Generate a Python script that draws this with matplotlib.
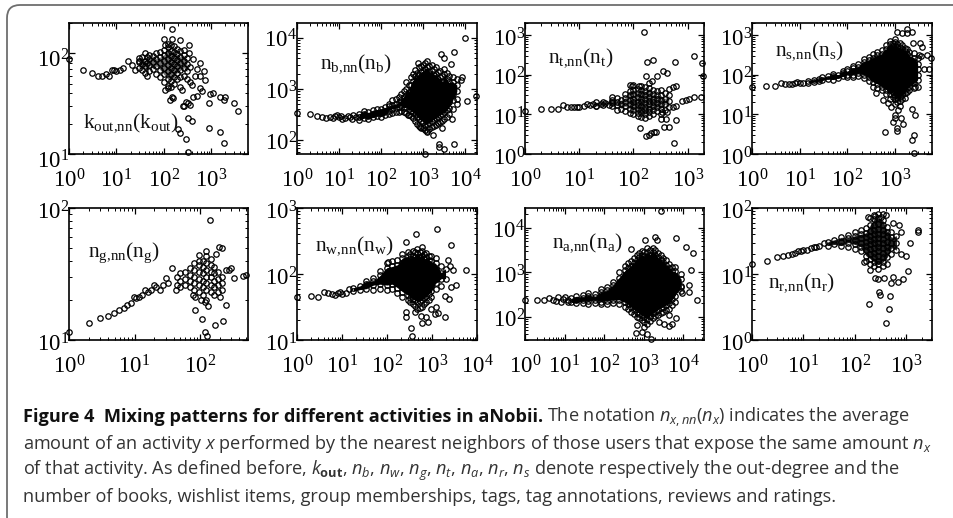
import numpy as np
import matplotlib
matplotlib.use("Agg")
import matplotlib.pyplot as plt
from matplotlib.patches import FancyBboxPatch
from matplotlib.ticker import LogLocator, NullFormatter
from matplotlib.transforms import ScaledTranslation

plt.rcParams['font.family'] = ['Liberation Serif', 'DejaVu Serif']
plt.rcParams['mathtext.fontset'] = 'custom'
plt.rcParams['mathtext.rm'] = 'Open Sans'
plt.rcParams['mathtext.it'] = 'Open Sans:italic'
plt.rcParams['mathtext.bf'] = 'Open Sans:bold'

# k_out
k_x = [1,2,3,4,5,6,7,8,9,10,12,14,18,21,25,30,100,150,150,220,105,335,950,1100,1550,1960,880,1880,3100,3650,880,1550,1880,200,220,290,330,320,390,260,330,420,500,590,640,390,240,220,150,136,160,105,125,590,500,715,590,750,420,335,360,460,360,270,350,300]
k_y = [88,68,64,59,60,62,60,69,68,67,68,71,83,76,69,83,138,173,138,136,121,121,39.5,40,37,37,32,34,32,27,18,16.4,13,17.6,16,14,10.5,23,21.5,30,32,37,38,45,42,49,43,46,37,34,36,43,45,80,70,66,59,54,87,100,73,60,52,30,31,33]
k_cx = [30,35,40,45,50,60,70,85,100,120,140,165,190,225,265,310]
k_cy = [[72,82,90],[68,78,92],[64,74,84,100],[60,80,92],[66,76,88,96],[70,82,94],[62,75,88,100],[58,68,80,92,104],[52,62,72,84,96,108],[47,56,66,76,88,100,115,125],[46,53,62,72,82,94,106,120],[50,58,68,78,90,102,118],[55,64,74,86,98,110],[58,68,80,92,105],[60,72,84,96,108],[55,66,78,90]]

# n_b
b_x = [1,2,3,4,5,6,7,8,9,10,11,12,14,16,18,20,22,25,10000,17900,11000,5300,2650,760,1120,2350,2350,3160,5300,820,1240,1700,2800,440,4900,6400,8500,8000,3200,4500]
b_y = [340,325,300,290,275,285,270,295,310,285,300,260,270,300,290,260,310,290,10000,740,590,5400,4850,3300,55,86,75,69,86,180,145,125,175,310,265,500,1700,1500,4000,3100]
b_cx = [30,40,50,65,80,100,125,150,180,220,260,300,350,400,450,500,570,650,720,800,900,1000,1120,1250,1400,1600,1800,2000,2250,2500,2850,3200,3600,4000,5000,6300]
b_cy = [[250,290,330],[270,320,370],[265,300,350],[280,330,390],[300,345,400],[290,350,410],[310,370,440],[320,380,460,520],[340,410,490,600],[350,420,510,640],[360,440,550,700],[380,480,620,800],[350,430,540,700,900],[340,440,580,760,1000,1400],[310,400,520,680,880,1200],[300,380,500,680,900,1200,1700],[270,350,450,600,790,1050,1450,1950],[240,320,420,560,740,980,1300,1800,2400],[210,290,380,500,660,860,1150,1600,2100],[190,260,340,450,600,800,1050,1400,1900,2700],[175,240,310,400,530,700,920,1220,1620,2200,2800],[170,230,310,400,530,700,930,1250,1650,2200,2900],[160,200,270,350,460,610,810,1080,1430,1900,2500,3200],[150,210,280,370,490,650,860,1150,1500,2000,2700,3500],[165,220,290,380,500,670,890,1190,1590,2100,2800],[180,240,320,420,560,740,980,1300,1750,2300,3000],[190,260,340,450,600,790,1050,1400,1850,2500],[200,270,360,480,640,850,1130,1500,2000,2700],[220,290,390,510,680,900,1200,1600,2150],[230,310,410,550,720,960,1280,1700,2300],[240,330,440,580,770,1020,1360,1800],[260,350,470,620,830,1100,1450,1950,2500],[290,390,510,680,900,1200,1600,2100],[320,420,560,750,1000,1350,1800],[400,600,800,1100,1400,1700],[650,900,1200,1600]]

# n_t
t_x = [1,2,3,4,5,6,7,8,9,10,12,14,16,18,20,25,30,35,40,155,178,230,575,1320,1860,1950,174,355,420,94,129,224,275,450,530,600,130,167,190,240,360,450,560,600,316,390,340,420,525,600,775,920,1050,1320,1740,260,210]
t_y = [12,14,14,14,17,15,15,15,15,15.5,16,18,17,18,16.5,18,19,17,20,1180,210,237,210,300,195,90,91,120,108,53,53,71,90,44,48,53,4.4,2.9,3.1,3.6,4.8,4.8,1.85,7,7.8,7.8,11.5,11.5,15,16,22,23,24,27,28,3.5,3.4]
t_cx = [20,28,40,50,60,70,85,100,120,140,165,195,230,270,320,380,450]
t_cy = [[16,20],[17,21],[16,19,23,27],[13,17,21,26],[14,18,23],[12,16,20,26,32],[11,14,18,23,30,38,55],[10,13,16,20,25,32,42,55],[9,11,14,17,21,27,34,44],[8.5,10.5,13,16,20,25,32,40,52],[8,10,12.5,15.5,19,24,30,38,48],[9,11.5,14,18,22,28,35,45,60],[10,13,16,20,25,32,40],[12,15,19,24,30,38],[10,14,18,23,30,40],[13,18,25,35],[15,22,30]]

# n_s
s_x = [1,2,3,4,5,6,7,8,9,10,12,1080,1400,1770,1770,2260,2450,3400,3700,3150,4700,5800,4000,5100,2450,410,560,720,820,1140,1000,2260,2700,610,890,1000,1350,1080,1080,1500,2570,2240,2570,2600,3500]
s_y = [50,53,52,60,58,57,57,60,65,62,60,1200,1100,1100,1390,1170,630,620,500,310,310,260,140,140,66,35,23,19,15,13,9.6,14,9.6,3.5,6.5,8,8,4.4,3.8,5.7,3,2.2,1.07,50,300]
s_cx = [15,20,25,30,40,50,65,80,100,130,170,220,280,350,430,530,650,800,900,1000,1120,1250,1400,1600,1800,2000,2500,3000]
s_cy = [[62,70],[65,75],[68,78],[72,85],[78,90],[75,90,105],[82,100],[90,110,125],[85,100,120,140],[85,100,120,145,165],[90,110,130,155,185],[80,100,120,145,175,210,250],[70,85,105,130,155,190,230,280],[50,65,80,100,120,150,180,220,270,330],[45,58,72,90,110,135,165,205,250,310,380],[40,50,62,78,95,120,145,180,220,270,340,420],[32,42,52,65,80,100,125,155,190,235,290,360,450,560],[25,32,42,52,65,82,102,125,155,195,240,300,370,460,580,700],[28,37,47,58,73,92,113,140,175,215,270,335,415,520,640],[18,24,30,38,48,60,75,95,118,145,180,225,280,350,430,540,680,800],[20,26,33,42,53,66,84,105,130,160,200,250,310,390,490,600],[16,22,28,36,45,56,70,88,110,135,170,210,260,325,400,500,620],[24,31,39,49,62,78,96,120,150,185,230,285,360,440,550],[26,34,42,54,68,85,105,130,160,200,250,310,390,480],[36,45,58,72,92,115,145,175,215,270,340,430],[40,50,62,80,100,125,155,190,240,300,370],[45,60,78,100,130,165,210,270,350],[50,75,100,140,190,260]]

# n_g
g_x = [1,2,3,4,4.9,5.8,6.9,7.8,8.8,9.8,10.7,11.8,12.8,14.4,16,18,20,21.6,24.5,27,30,32,37,43,140,125,178,195,219,95,85,107,118,129,167,224,245,132,105,78,83,120,200,330,450,500,250,280,300]
g_y = [11.4,13.4,14.6,15.2,16.1,17,17.6,18.5,19,21,20.7,21,22,24,23,24,26,25,24,26,29.5,27,35,24,81,47,45,51,50,44,17,14.5,11.4,10.8,13,14,18.5,18,20,22,21,19.5,21,29.5,30.6,31,34,34,35]
g_cx = [45,50,60,70,80,95,110,125,145,165,190,220]
g_cy = [[26,30],[25,28,32],[26,29,33],[25,28,31,35],[24,27,30,34,38],[23,26,29,33,37,40],[22,25,28,32,36,40],[20,24,27,30,34,38,43],[23,26,30,33,37,41],[22,25,28,32,36],[23,26,29,33],[24,27,30]]

# n_w
w_x = [1,2,3,4,5,6,7,8,9,10,12,14,1320,450,260,2700,2300,2460,2950,5600,3470,2580,1900,2400,1900,270,270,350,360,410,580,600,810,720,960,1150,1350,1250,105]
w_y = [45,47,45,53,52,50,48,52,54,50,52,60,480,410,310,276,165,130,113,113,67,63,47,42,22,27,22,15,11.6,27,23,18,18.5,22,30,25,26,32,151]
w_cx = [18,25,35,50,70,100,130,170,220,290,330,370,420,470,530,600,670,750,850,950,1200,1600,2000]
w_cy = [[55,62],[58,66],[60,70,78],[58,68,78,88],[60,70,82,95,110],[58,68,80,92,108,125,145],[60,70,82,96,112,130,155],[52,62,72,85,100,118,138,165],[45,54,64,76,90,106,125,148,175,200],[40,48,58,68,80,95,112,132,155,185,215],[37,44,53,63,74,87,102,120,143,170,198],[35,42,50,60,70,83,98,115,135,160,190,225],[33,40,48,57,67,80,94,110,130,154,182,215],[30,38,46,55,65,77,90,106,125,148,175,205,240],[31,39,47,56,66,78,92,109,128,151,180,212],[32,40,48,58,68,80,95,112,132,155,185,220,260],[35,43,51,61,73,86,101,120,141,168,198],[38,46,55,66,78,92,108,128,150,178,205],[41,50,60,72,85,100,118,140,165,190],[45,55,66,78,92,110,130,155,185],[60,72,85,102,120,145,175],[65,85,105,130],[85,120]]

# n_a
a_x = [1,2,3,4,5,6,7,8,9,10,12,12,2800,2000,6800,12000,18000,470,1120,16000,22000,14000,14000,9300,6500,4400,4300,2450,630,690,1230,1510,8700,7500,2200,900,1050,3400,5300]
a_y = [240,237,240,265,235,230,280,220,250,275,210,240,24000,6300,5800,3800,2700,3400,5200,1100,237,520,365,340,92,110,62,78,44,65,42,31,475,470,5400,45,58,68,70]
a_cx = [15,20,30,40,60,85,120,170,240,340,410,480,570,680,780,900,1050,1200,1450,1700,2000,2300,2700,3200,3800,4500,5300,6300,9000]
a_cy = [[210,260],[205,240,290],[200,235,270,310],[195,225,260,300,345],[205,240,280,330],[190,220,260,305,360,420],[195,230,275,330,390,460],[200,240,290,350,420,510,620],[195,240,290,350,420,510,620,760,1000],[170,210,260,320,390,480,590,720,880,1100,1400],[150,190,235,290,350,430,530,650,800,990,1250,1600],[130,165,205,255,315,390,480,600,740,920,1140,1400,1800],[115,145,185,230,285,355,440,540,670,840,1050,1300,1650,2100],[100,130,165,205,255,320,400,500,620,770,960,1200,1500,1900,2400],[92,118,150,190,235,290,365,455,565,700,880,1100,1380,1720,2200,2700],[85,108,135,170,210,265,330,410,510,640,800,1000,1250,1550,1950,2500,3000],[78,98,125,155,195,245,305,380,480,600,750,940,1180,1480,1850,2300,2900],[70,90,115,145,185,230,290,360,450,570,710,890,1100,1400,1750,2200,2800,3500],[82,105,132,165,210,262,330,415,520,650,810,1020,1280,1600,2000,2500,3200],[95,120,150,190,240,300,375,470,590,740,920,1150,1450,1800,2300,2900,3600],[102,130,165,210,262,330,410,515,640,810,1020,1270,1600,2000,2500,3100],[110,145,180,230,285,360,450,560,700,880,1100,1400,1750,2200,2700],[120,155,198,250,310,390,490,620,770,970,1220,1520,1900,2400],[130,170,215,270,340,430,540,680,850,1060,1330,1700,2100],[140,185,232,295,370,465,585,735,925,1160,1450,1850],[150,200,250,320,400,500,630,790,1000,1250,1550],[185,250,325,410,520,660,830,1050,1300],[220,300,400,500,650,820,1050,1300],[380,500,700,900]]

# n_r
r_x = [1,2,3,4,5,6,7,8,9,10,12,14,16,18,20,25,1700,1700,1180,810,1000,1100,870,700,510,560,300,310,490,470,400,190,195,155,245,290,370,180,250,330,415,560,725,810]
r_y = [14,16,18,18.7,19.5,20,21,22,22,23,23,25,26,26,27,29,46,43,30,20,19,11,8.5,7.5,7.2,9,5.4,4.8,4.6,2.9,1.8,3.5,11.4,15,8.8,8.4,8.8,72,75,72,79,60,55,43]
r_cx = [30,40,55,75,100,130,165,200,240,290,350,430,520,650]
r_cy = [[27,31],[28,33],[27,31,36],[26,30,35,39],[24,28,33,38,43],[22,26,30,35,40,46],[16,19,23,27,31,36,42,50],[14,17,20,24,28,33,38,45,55,70],[13,15,18,21,25,29,34,40,47,56,68,78],[12,14,16,19,22,26,30,35,41,48,58,70,80],[13,15,18,21,25,29,34,40,47,56,66,80],[14,18,22,26,31,37,44,52],[20,25,30,36,44],[23,30,38]]

panel_xs = [k_x, b_x, t_x, s_x, g_x, w_x, a_x, r_x]
panel_ys = [k_y, b_y, t_y, s_y, g_y, w_y, a_y, r_y]
panel_cx = [k_cx, b_cx, t_cx, s_cx, g_cx, w_cx, a_cx, r_cx]
panel_cy = [k_cy, b_cy, t_cy, s_cy, g_cy, w_cy, a_cy, r_cy]
labels = [r'$\mathdefault{k_{out{,}nn}(k_{out})}$', r'$\mathdefault{n_{b{,}nn}(n_{b})}$',
          r'$\mathdefault{n_{t{,}nn}(n_{t})}$', r'$\mathdefault{n_{s{,}nn}(n_{s})}$',
          r'$\mathdefault{n_{g{,}nn}(n_{g})}$', r'$\mathdefault{n_{w{,}nn}(n_{w})}$',
          r'$\mathdefault{n_{a{,}nn}(n_{a})}$', r'$\mathdefault{n_{r{,}nn}(n_{r})}$']
xlims = [(1,6000),(1,19000),(1,2000),(1,6000),(1,540),(1,10000),(1,34000),(1,3200)]
ylims = [(10,200),(54,19500),(1,2000),(1,2000),(10,100),(10,1000),(30,28000),(1,100)]
xexp = [range(0,4),range(0,5),range(0,4),range(0,4),range(0,3),range(0,5),range(0,5),range(0,4)]
yexp = [range(1,3),range(2,5),range(0,4),range(0,4),range(1,3),range(1,4),range(2,5),range(0,3)]
W, H = 954, 518
boxes = [(69,23,179,131),(297,23,180,131),(525,23,179,131),(752,23,180,131),
         (69,208,179,132),(297,208,180,132),(525,208,179,132),(752,208,180,132)]
label_pos = [(83,127),(320,68),(548,62),(775,55),(88,257),(315,250),(552,247),(768,287)]
ylabel_shift = [5,1,2,2,2,2,2,2]
# overplotted core of each cloud: points inside the outermost `inset` of a column merge into one dark mass
core_inset = [1,1,1,1,None,1,1,1]
core_alpha = [0.55,1,0.5,1,0,1,1,0.85]

fig = plt.figure(figsize=(W/100, H/100), dpi=100)
frame = FancyBboxPatch((7/W, 1-530/H), 1000/W, 525/H, transform=fig.transFigure,
                       boxstyle="round,pad=0,rounding_size=0.0136", mutation_aspect=W/H,
                       fc='white', ec='#6e6e6e', lw=1.3, zorder=-5)
fig.add_artist(frame)

for i in range(8):
    l, t, w, h = boxes[i]
    ax = fig.add_axes([l/W, 1-(t+h)/H, w/W, h/H])
    ax.patch.set_alpha(0)
    ax.set_xscale('log'); ax.set_yscale('log')
    xs = list(panel_xs[i]); ys = list(panel_ys[i])
    for cx, col in zip(panel_cx[i], panel_cy[i]):
        xs += [cx]*len(col); ys += list(col)
    ax.plot(xs, ys, ls='none', marker='o', ms=3.9, mfc='none', mec='black', mew=0.9, clip_on=False, zorder=3)
    if core_inset[i] is not None:
        n = core_inset[i]
        lo = [c[n] if len(c) > 2*n+1 else c[0] for c in panel_cy[i]]
        hi = [c[-1-n] if len(c) > 2*n+1 else c[-1] for c in panel_cy[i]]
        ax.fill_between(panel_cx[i], lo, hi, color='black', alpha=core_alpha[i], lw=0, zorder=2)
    ax.set_xlim(*xlims[i]); ax.set_ylim(*ylims[i])
    ax.set_xticks([10.0**e for e in xexp[i]])
    ax.set_xticklabels([r'$\mathdefault{10^{%d}}$' % e for e in xexp[i]])
    ax.set_yticks([10.0**e for e in yexp[i]])
    ax.set_yticklabels([r'$\mathdefault{10^{%d}}$' % e for e in yexp[i]])
    ax.xaxis.set_minor_locator(LogLocator(base=10, subs=range(2,10), numticks=12))
    ax.yaxis.set_minor_locator(LogLocator(base=10, subs=range(2,10), numticks=12))
    ax.xaxis.set_minor_formatter(NullFormatter()); ax.yaxis.set_minor_formatter(NullFormatter())
    ax.tick_params(which='major', direction='in', top=True, right=True, length=4, width=0.9, labelsize=16.5)
    ax.tick_params(which='minor', direction='in', top=True, right=True, length=2, width=0.7)
    ax.tick_params(axis='x', which='major', pad=11)
    ax.tick_params(axis='y', which='major', pad=0)
    for s in ax.spines.values():
        s.set_linewidth(1.2)
    for tick in ax.yaxis.get_major_ticks():
        tick.label1.set_transform(tick.label1.get_transform() + ScaledTranslation(0, -ylabel_shift[i]/100, fig.dpi_scale_trans))
    px, py = label_pos[i]
    fig.text(px/W, 1-py/H, labels[i], fontsize=15.5, ha='left', va='baseline', color='#111111', zorder=5)

cap_fs = 13.1
cap = dict(family='Open Sans', fontsize=cap_fs, va='baseline', ha='left')
x0 = 23
lines_y = [422, 449, 475, 502]
b = fig.text(x0/W, 1-lines_y[0]/H, 'Figure 4  Mixing patterns for different activities in aNobii.', fontweight='bold', color='#111111', **cap)
rend = fig.canvas.get_renderer()
bw = b.get_window_extent(rend).width
fig.text((x0+bw+4)/W, 1-lines_y[0]/H, r'The notation $n_{x,nn}(n_x)$ indicates the average', color='#333333', **cap)
fig.text(x0/W, 1-lines_y[1]/H, r'amount of an activity $x$ performed by the nearest neighbors of those users that expose the same amount $n_x$', color='#333333', **cap)
fig.text(x0/W, 1-lines_y[2]/H, r'of that activity. As defined before, $k_{\mathbf{out}}$, $n_b$, $n_w$, $n_g$, $n_t$, $n_a$, $n_r$, $n_s$ denote respectively the out-degree and the', color='#333333', **cap)
fig.text(x0/W, 1-lines_y[3]/H, 'number of books, wishlist items, group memberships, tags, tag annotations, reviews and ratings.', color='#333333', **cap)
fig.savefig('out.png', dpi=100)
